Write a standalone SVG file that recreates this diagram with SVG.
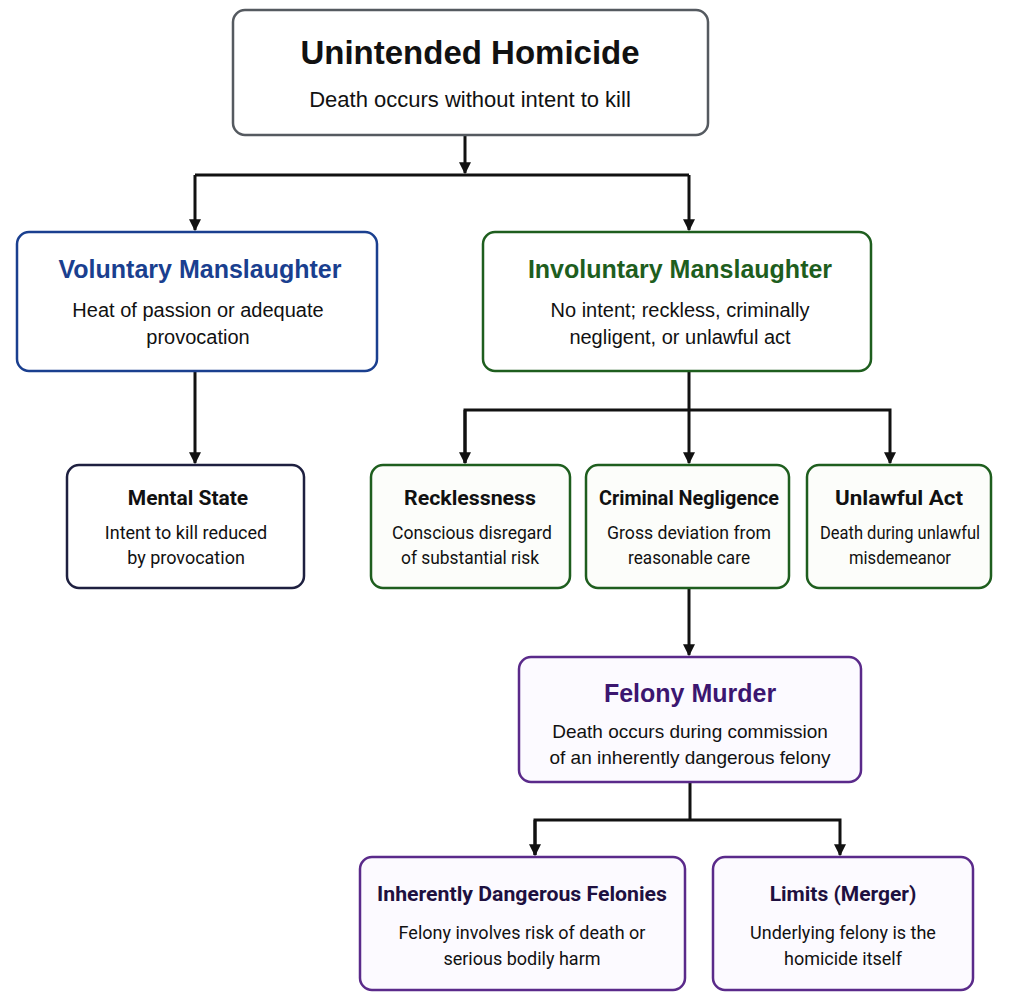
<svg xmlns="http://www.w3.org/2000/svg" width="1009" height="1008" viewBox="0 0 1009 1008">
<style>
text{font-family:"Liberation Sans",Arial,sans-serif;text-anchor:middle;fill:#111}
.t{font-weight:bold}
.box{stroke-width:2.5}
.c{fill:none;stroke:#111;stroke-width:3}
.n{font-family:"Roboto","Liberation Sans",sans-serif}
</style>
<defs><marker id="a" viewBox="0 0 10 10" refX="9" refY="5" markerWidth="4" markerHeight="4" orient="auto" markerUnits="strokeWidth"><path d="M0,0L10,5L0,10z" fill="#111"/></marker></defs>
<rect width="1009" height="1008" fill="#fff"/>
<g id="connectors" class="c">
<path d="M195,175H689M689,175V230" marker-end="url(#a)"/>
<path d="M195,175V230" marker-end="url(#a)"/>
<path d="M465,135V173" marker-end="url(#a)"/>
<path d="M195,371V463" marker-end="url(#a)"/>
<path d="M689,371V410H465V463M689,410H890V463" marker-end="url(#a)"/>
<path d="M465,410V463" marker-end="url(#a)"/>
<path d="M689,410V463" marker-end="url(#a)"/>
<path d="M689,588V655" marker-end="url(#a)"/>
<path d="M690,782V820H535V855M690,820H840V855" marker-end="url(#a)"/>
<path d="M535,820V855" marker-end="url(#a)"/>
</g>
<g id="n0"><rect class="box" x="233" y="10" width="475" height="125" rx="12" fill="#fff" stroke="#555a60"/>
<text class="t" x="470" y="64" font-size="33">Unintended Homicide</text>
<text x="470" y="107" font-size="22">Death occurs without intent to kill</text></g>
<g id="n1"><rect class="box" x="17" y="232" width="360" height="139" rx="12" fill="#fff" stroke="#1a3f8f"/>
<text class="t" x="200" y="278" font-size="25" style="fill:#1a3f8f">Voluntary Manslaughter</text>
<text x="198" y="317" font-size="20">Heat of passion or adequate</text>
<text x="198" y="344" font-size="20">provocation</text></g>
<g id="n2"><rect class="box" x="483" y="232" width="388" height="139" rx="12" fill="#fff" stroke="#1e5e1e"/>
<text class="t" x="680" y="278" font-size="25" style="fill:#1e5e1e">Involuntary Manslaughter</text>
<text x="680" y="317" font-size="20">No intent; reckless, criminally</text>
<text x="680" y="344" font-size="20">negligent, or unlawful act</text></g>
<g id="n3"><rect class="box" x="67" y="465" width="237" height="123" rx="12" fill="#fff" stroke="#1e2040"/>
<text class="t n" x="188" y="505" font-size="21">Mental State</text>
<text class="n" x="186" y="539" font-size="18">Intent to kill reduced</text>
<text class="n" x="186" y="564" font-size="18">by provocation</text></g>
<g id="n4"><rect class="box" x="371" y="465" width="199" height="123" rx="12" fill="#fcfdfa" stroke="#1e5e1e"/>
<text class="t n" x="470" y="505" font-size="21" textLength="132" lengthAdjust="spacingAndGlyphs">Recklessness</text>
<text class="n" x="472" y="539" font-size="18" textLength="160" lengthAdjust="spacingAndGlyphs">Conscious disregard</text>
<text class="n" x="470" y="564" font-size="18" textLength="138" lengthAdjust="spacingAndGlyphs">of substantial risk</text></g>
<g id="n5"><rect class="box" x="586" y="465" width="203" height="123" rx="12" fill="#fcfdfa" stroke="#1e5e1e"/>
<text class="t n" x="689" y="505" font-size="21" textLength="180" lengthAdjust="spacingAndGlyphs">Criminal Negligence</text>
<text class="n" x="689" y="539" font-size="18" textLength="164" lengthAdjust="spacingAndGlyphs">Gross deviation from</text>
<text class="n" x="689" y="564" font-size="18" textLength="122" lengthAdjust="spacingAndGlyphs">reasonable care</text></g>
<g id="n6"><rect class="box" x="807" y="465" width="184" height="123" rx="12" fill="#fcfdfa" stroke="#1e5e1e"/>
<text class="t n" x="899" y="505" font-size="21" textLength="128" lengthAdjust="spacingAndGlyphs">Unlawful Act</text>
<text class="n" x="900" y="539" font-size="18" textLength="160" lengthAdjust="spacingAndGlyphs">Death during unlawful</text>
<text class="n" x="900" y="564" font-size="18" textLength="102" lengthAdjust="spacingAndGlyphs">misdemeanor</text></g>
<g id="n7"><rect class="box" x="519" y="657" width="342" height="125" rx="12" fill="#fcfaff" stroke="#5a2a8a"/>
<text class="t" x="690" y="702" font-size="25" style="fill:#3c1670">Felony Murder</text>
<text x="690" y="738" font-size="19">Death occurs during commission</text>
<text x="690" y="764" font-size="19">of an inherently dangerous felony</text></g>
<g id="n8"><rect class="box" x="360" y="857" width="325" height="133" rx="12" fill="#fcfaff" stroke="#5a2a8a"/>
<text class="t n" x="522" y="901" font-size="21" textLength="290" lengthAdjust="spacingAndGlyphs" style="fill:#1e1040">Inherently Dangerous Felonies</text>
<text class="n" x="522" y="939" font-size="18">Felony involves risk of death or</text>
<text class="n" x="522" y="965" font-size="18">serious bodily harm</text></g>
<g id="n9"><rect class="box" x="713" y="857" width="260" height="133" rx="12" fill="#fcfaff" stroke="#5a2a8a"/>
<text class="t n" x="843" y="901" font-size="21" style="fill:#1e1040">Limits (Merger)</text>
<text class="n" x="843" y="939" font-size="18">Underlying felony is the</text>
<text class="n" x="843" y="965" font-size="18">homicide itself</text></g>
</svg>
